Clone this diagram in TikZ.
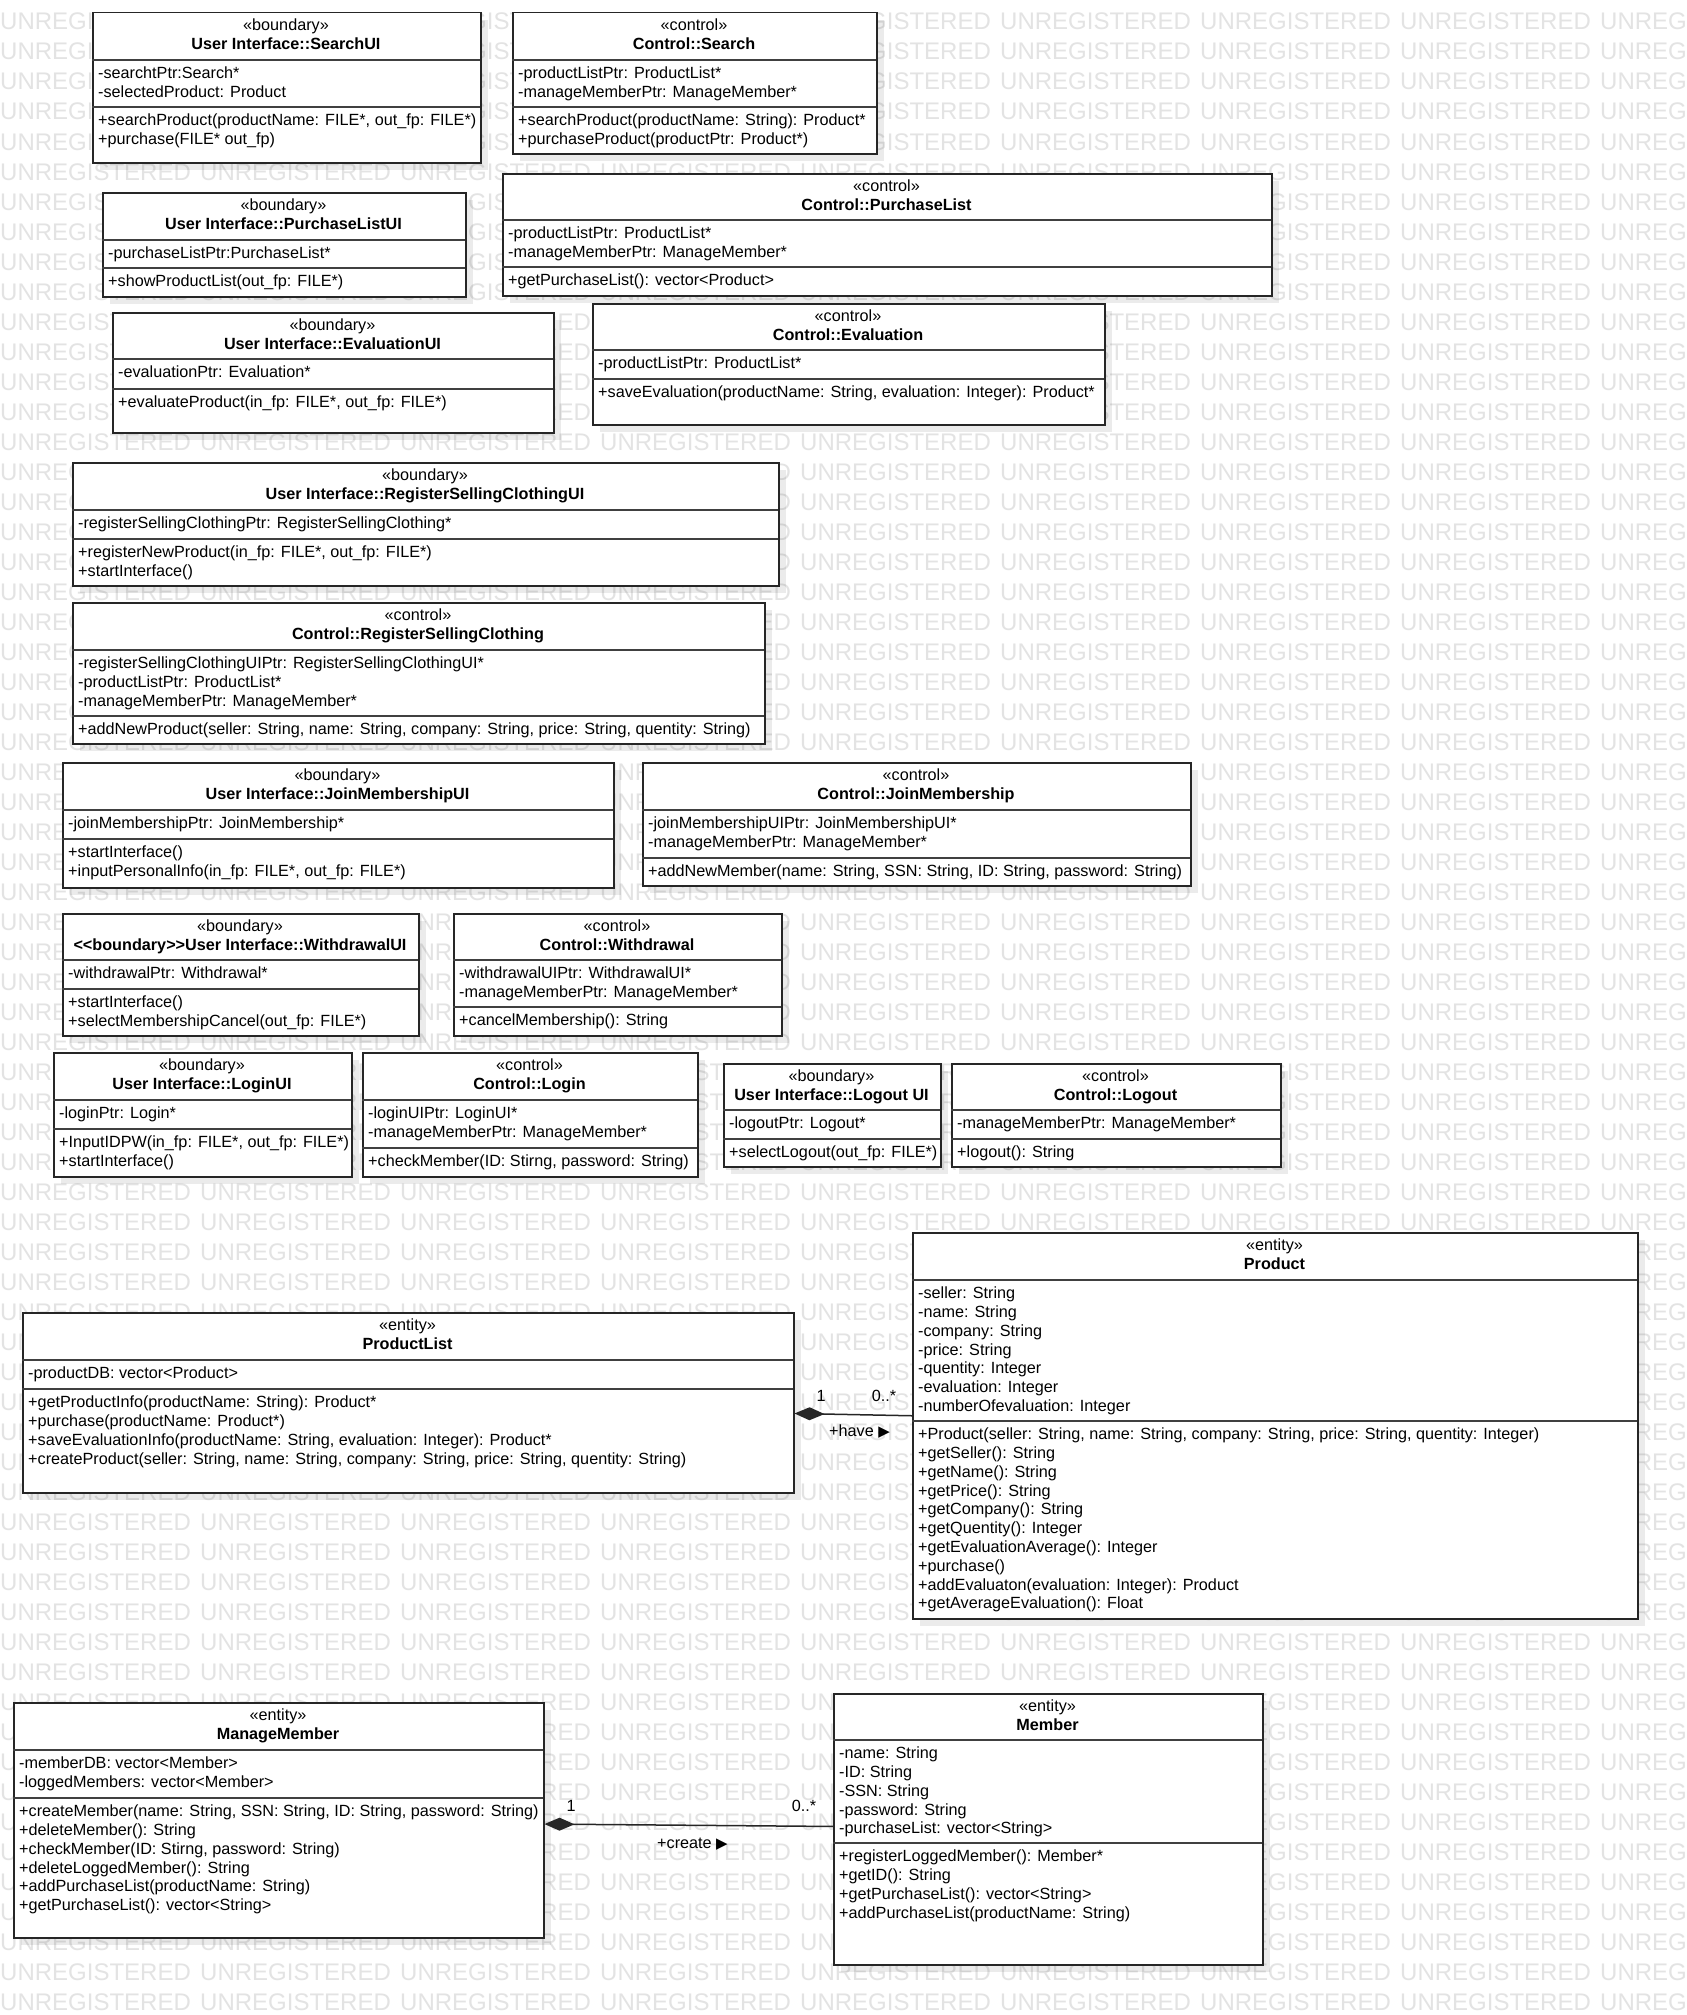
\documentclass[tikz,border=0pt]{standalone}
\usepackage{fontspec}
\setmainfont{Liberation Sans}
\newfontfamily\arrowglyphfont{DejaVu Sans}
\usetikzlibrary{arrows.meta,shadows}

% text sizes (1 unit = 1pt)
\newcommand\umlfont{\fontsize{16.2}{18.8}\selectfont}
\newcommand\wmfont{\fontsize{24}{24}\selectfont}
\newcommand\navarrow{{\arrowglyphfont\fontsize{15}{15}\selectfont ▶}}

\tikzset{
  classbox/.style={draw=black!85, line width=1.5pt, fill=white, inner sep=0pt,
    drop shadow={shadow xshift=7pt, shadow yshift=-7pt, opacity=0.08, fill=black}},
  divider/.style={draw=black!75, line width=1.5pt},
  hdtext/.style={anchor=north, align=center, inner sep=0pt, font=\umlfont},
  bodytext/.style={anchor=north west, align=left, inner sep=0pt, font=\umlfont},
  watermark/.style={anchor=base west, inner sep=0pt, font=\wmfont, text=black!11},
  composition/.style={draw=black!85, line width=1.5pt, {Diamond[length=30pt,width=13pt]}-},
  rolelabel/.style={inner sep=0pt, font=\umlfont},
}

% #1 name, #2 left, #3 top, #4 right, #5 bottom, #6 first divider, #7 second divider,
% #8 stereotype, #9 class name
\newcommand\umlclass[9]{%
  \def\clsx{#2}\def\clsa{#6}\def\clsb{#7}%
  \node[classbox, anchor=north west, minimum width={(#4)-(#2)}, minimum height={(#5)-(#3)}] (#1) at (#2,#3) {};
  \draw[divider] (#2,#6) -- (#4,#6);
  \draw[divider] (#2,#7) -- (#4,#7);
  \node[hdtext] (#1-head) at ({((#2)+(#4))/2},{(#3)+5.3}) {\strut«#8»\\\textbf{#9}};
}
% #1 name, #2 attributes, #3 operations
\newcommand\umlbody[3]{%
  \node[bodytext] (#1-attr) at ({\clsx+6},{\clsa+5.3}) {\strut#2};
  \node[bodytext] (#1-ops) at ({\clsx+6},{\clsb+5.3}) {\strut#3};
}

\begin{document}
\begin{tikzpicture}[x=1pt,y=-1pt]
\useasboundingbox (0,0) rectangle (1686,2015);
\fill[white] (0,0) rectangle (1686,2015);
\clip (0,0) rectangle (1686,2015);

% background lettering
\foreach \r in {0,...,66}
  \foreach \c in {0,...,8}
    \node[watermark] (wm-\r-\c) at ({200*\c},{30+30*\r}) {UNREGISTERED};

% ---- boundary / control classes ----
\umlclass{searchui}{92}{12}{480}{162}{60}{107}{boundary}{User Interface::SearchUI}
\umlbody{searchui}{-searchtPtr:Search*\\-selectedProduct: Product}
  {+searchProduct(productName: FILE*, out\_fp: FILE*)\\+purchase(FILE* out\_fp)}

\umlclass{search}{512}{12}{876}{153}{60}{107}{control}{Control::Search}
\umlbody{search}{-productListPtr: ProductList*\\-manageMemberPtr: ManageMember*}
  {+searchProduct(productName: String): Product*\\+purchaseProduct(productPtr: Product*)}

\umlclass{purchaselistui}{102}{192}{465}{296}{240}{268}{boundary}{User Interface::PurchaseListUI}
\umlbody{purchaselistui}{-purchaseListPtr:PurchaseList*}{+showProductList(out\_fp: FILE*)}

\umlclass{purchaselist}{502}{173}{1271}{295}{220}{267}{control}{Control::PurchaseList}
\umlbody{purchaselist}{-productListPtr: ProductList*\\-manageMemberPtr: ManageMember*}
  {+getPurchaseList(): vector<Product>}

\umlclass{evaluationui}{112}{312}{553}{432}{359}{389}{boundary}{User Interface::EvaluationUI}
\umlbody{evaluationui}{-evaluationPtr: Evaluation*}{+evaluateProduct(in\_fp: FILE*, out\_fp: FILE*)}

\umlclass{evaluation}{592}{303}{1104}{424}{350}{379}{control}{Control::Evaluation}
\umlbody{evaluation}{-productListPtr: ProductList*}
  {+saveEvaluation(productName: String, evaluation: Integer): Product*}

\umlclass{registerui}{72}{462}{778}{585}{510}{539}{boundary}{User Interface::RegisterSellingClothingUI}
\umlbody{registerui}{-registerSellingClothingPtr: RegisterSellingClothing*}
  {+registerNewProduct(in\_fp: FILE*, out\_fp: FILE*)\\+startInterface()}

\umlclass{register}{72}{602}{764}{743}{650}{716}{control}{Control::RegisterSellingClothing}
\umlbody{register}{-registerSellingClothingUIPtr: RegisterSellingClothingUI*\\-productListPtr: ProductList*\\-manageMemberPtr: ManageMember*}
  {+addNewProduct(seller: String, name: String, company: String, price: String, quentity: String)}

\umlclass{joinui}{62}{762}{613}{887}{810}{839}{boundary}{User Interface::JoinMembershipUI}
\umlbody{joinui}{-joinMembershipPtr: JoinMembership*}
  {+startInterface()\\+inputPersonalInfo(in\_fp: FILE*, out\_fp: FILE*)}

\umlclass{join}{642}{762}{1190}{885}{810}{858}{control}{Control::JoinMembership}
\umlbody{join}{-joinMembershipUIPtr: JoinMembershipUI*\\-manageMemberPtr: ManageMember*}
  {+addNewMember(name: String, SSN: String, ID: String, password: String)}

\umlclass{withdrawalui}{62}{913}{418}{1035}{960}{989}{boundary}{<\kern0pt<boundary>\kern0pt>User Interface::WithdrawalUI}
\umlbody{withdrawalui}{-withdrawalPtr: Withdrawal*}
  {+startInterface()\\+selectMembershipCancel(out\_fp: FILE*)}

\umlclass{withdrawal}{453}{913}{781}{1035}{960}{1007}{control}{Control::Withdrawal}
\umlbody{withdrawal}{-withdrawalUIPtr: WithdrawalUI*\\-manageMemberPtr: ManageMember*}
  {+cancelMembership(): String}

\umlclass{loginui}{53}{1052}{351}{1176}{1100}{1129}{boundary}{User Interface::LoginUI}
\umlbody{loginui}{-loginPtr: Login*}
  {+InputIDPW(in\_fp: FILE*, out\_fp: FILE*)\\+startInterface()}

\umlclass{login}{362}{1052}{697}{1176}{1100}{1148}{control}{Control::Login}
\umlbody{login}{-loginUIPtr: LoginUI*\\-manageMemberPtr: ManageMember*}
  {+checkMember(ID: Stirng, password: String)}

\umlclass{logoutui}{723}{1063}{940}{1166}{1110}{1139}{boundary}{User Interface::Logout UI}
\umlbody{logoutui}{-logoutPtr: Logout*}{+selectLogout(out\_fp: FILE*)}

\umlclass{logout}{951}{1063}{1280}{1166}{1110}{1139}{control}{Control::Logout}
\umlbody{logout}{-manageMemberPtr: ManageMember*}{+logout(): String}

% ---- entity classes ----
\umlclass{productlist}{22}{1312}{793}{1492}{1360}{1389}{entity}{ProductList}
\umlbody{productlist}{-productDB: vector<Product>}
  {+getProductInfo(productName: String): Product*\\+purchase(productName: Product*)\\+saveEvaluationInfo(productName: String, evaluation: Integer): Product*\\+createProduct(seller: String, name: String, company: String, price: String, quentity: String)}

\umlclass{product}{912}{1232}{1637}{1618}{1280}{1421}{entity}{Product}
\umlbody{product}{-seller: String\\-name: String\\-company: String\\-price: String\\-quentity: Integer\\-evaluation: Integer\\-numberOfevaluation: Integer}
  {+Product(seller: String, name: String, company: String, price: String, quentity: Integer)\\+getSeller(): String\\+getName(): String\\+getPrice(): String\\+getCompany(): String\\+getQuentity(): Integer\\+getEvaluationAverage(): Integer\\+purchase()\\+addEvaluaton(evaluation: Integer): Product\\+getAverageEvaluation(): Float}

\umlclass{managemember}{13}{1702}{543}{1937}{1750}{1798}{entity}{ManageMember}
\umlbody{managemember}{-memberDB: vector<Member>\\-loggedMembers: vector<Member>}
  {+createMember(name: String, SSN: String, ID: String, password: String)\\+deleteMember(): String\\+checkMember(ID: Stirng, password: String)\\+deleteLoggedMember(): String\\+addPurchaseList(productName: String)\\+getPurchaseList(): vector<String>}

\umlclass{member}{833}{1693}{1262}{1964}{1740}{1843}{entity}{Member}
\umlbody{member}{-name: String\\-ID: String\\-SSN: String\\-password: String\\-purchaseList: vector<String>}
  {+registerLoggedMember(): Member*\\+getID(): String\\+getPurchaseList(): vector<String>\\+addPurchaseList(productName: String)}

% ---- compositions ----
\draw[composition] ([yshift=-10.7pt]productlist.east) -- ([yshift=10pt]product.west);
\node[rolelabel] (have-one) at (821,1395.5) {1};
\node[rolelabel] (have-many) at (884,1396) {0..*};
\node[rolelabel, anchor=base west] (have-name) at (829,1436) {+have \navarrow};

\draw[composition] ([yshift=-3.8pt]managemember.east) -- ([yshift=2.8pt]member.west);
\node[rolelabel] (create-one) at (571,1806) {1};
\node[rolelabel] (create-many) at (804,1806) {0..*};
\node[rolelabel, anchor=base west] (create-name) at (657,1848) {+create \navarrow};
\end{tikzpicture}
\end{document}
